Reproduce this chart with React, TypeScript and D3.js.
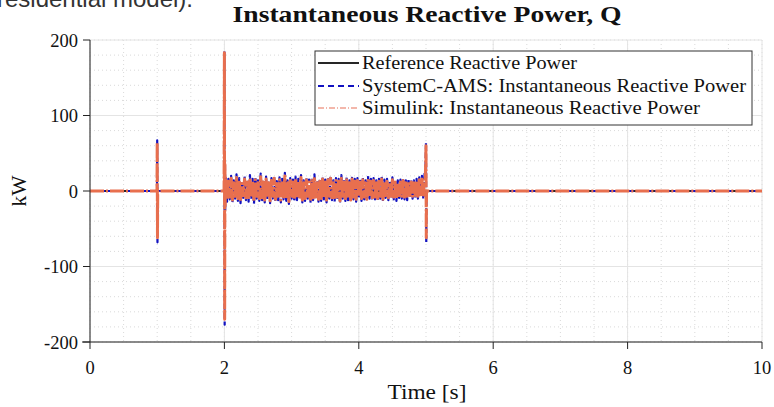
import React from "react";
import * as d3 from "d3";

const W = 774, H = 407;
const M = { left: 90, right: 762, top: 40, bottom: 342 };

const xTicks = [0, 2, 4, 6, 8, 10];
const yTicks = [-200, -100, 0, 100, 200];

// Reference reactive power (flat zero)
const refT = [0, 10];
const refQ = [0, 0];

// SystemC-AMS: transients (time, value)
const sysEventsBefore: [number, number][] = [
  [0, 0], [0.997, 0], [1.0, 67], [1.004, -68], [1.008, 0],
  [1.995, 0], [2.0, 185], [2.004, -177], [2.008, 40], [2.012, -25], [2.016, 20],
];
const sysEventsAfter: [number, number][] = [
  [4.99, 20], [5.0, 64], [5.004, -69], [5.008, -4], [5.012, 0], [10, 0],
];
// Simulink transients
const simEventsBefore: [number, number][] = [
  [0, 0], [0.997, 0], [1.0, 64], [1.004, -62], [1.008, 0],
  [1.995, 0], [2.0, 183], [2.004, -170], [2.008, 35], [2.012, -20], [2.016, 18],
];
const simEventsAfter: [number, number][] = [
  [4.99, 18], [5.0, 60], [5.004, -62], [5.008, -3], [5.012, 0], [10, 0],
];

// Noisy segment sampled from t = 2.02 to 4.98, step 0.02
const noiseStart = 2.02;
const noiseStep = 0.02;
const sysNoise = [
  18, -14, 16, -11, 20, -15, 14, -10, 22, -13,
  17, -16, 13, -9, 19, -12, 15, -14, 21, -11,
  16, -17, 18, -10, 14, -13, 23, -12, 15, -15,
  19, -11, 14, -16, 17, -10, 20, -14, 13, -12,
  18, -15, 16, -11, 24, -13, 14, -17, 17, -10,
  15, -14, 19, -12, 16, -11, 21, -15, 14, -13,
  18, -10, 15, -16, 17, -12, 22, -11, 14, -14,
  16, -13, 19, -11, 15, -15, 18, -10, 20, -12,
  14, -14, 17, -11, 16, -16, 21, -10, 15, -13,
  18, -12, 14, -15, 19, -11, 16, -14, 17, -10,
  15, -13, 18, -11, 14, -14, 20, -10, 16, -12,
  17, -11, 14, -13, 16, -10, 19, -14, 15, -9,
  16, -12, 14, -10, 18, -11, 15, -13, 14, -9,
  15, -10, 17, -11, 14, -12, 16, -9, 15, -10,
  14, -9, 16, -10, 18, -8, 20, -11, 24,
];
const simNoise = [
  15, -11, 13, -8, 17, -12, 11, -7, 18, -10,
  14, -13, 10, -6, 16, -9, 12, -11, 17, -8,
  13, -14, 15, -7, 11, -10, 19, -9, 12, -12,
  16, -8, 11, -13, 14, -7, 17, -11, 10, -9,
  15, -12, 13, -8, 20, -10, 11, -14, 14, -7,
  12, -11, 16, -9, 13, -8, 18, -12, 11, -10,
  15, -7, 12, -13, 14, -9, 18, -8, 11, -11,
  13, -10, 16, -8, 12, -12, 15, -7, 17, -9,
  11, -11, 14, -8, 13, -13, 17, -7, 12, -10,
  15, -9, 11, -12, 16, -8, 13, -11, 14, -7,
  12, -10, 15, -8, 11, -11, 16, -7, 13, -9,
  14, -8, 11, -10, 13, -7, 16, -11, 12, -6,
  13, -9, 11, -7, 15, -8, 12, -10, 11, -6,
  12, -7, 14, -8, 11, -9, 13, -6, 12, -7,
  11, -6, 13, -7, 15, -5, 16, -8, 19,
];

const FONT = "'Liberation Serif', 'DejaVu Serif', serif";

export default function App() {
  const x = d3.scaleLinear().domain([0, 10]).range([M.left, M.right]);
  const y = d3.scaleLinear().domain([-200, 200]).range([M.bottom, M.top]);
  const line = d3.line<[number, number]>().x((d) => x(d[0])).y((d) => y(d[1]));

  const build = (before: [number, number][], noise: number[], after: [number, number][]) => [
    ...before,
    ...noise.map((v, i) => [noiseStart + i * noiseStep, v] as [number, number]),
    ...after,
  ];
  const sysData = build(sysEventsBefore, sysNoise, sysEventsAfter);
  const simData = build(simEventsBefore, simNoise, simEventsAfter);
  const refData = refT.map((t, i) => [t, refQ[i]] as [number, number]);

  const xMinor = d3.range(0, 10.001, 0.5);
  const yMinor = d3.range(-200, 200.001, 20);

  const blue = "#1212c0";
  const orange = "#e86f4e";

  return (
    <svg width={W} height={H} style={{ position: "absolute", left: 0, top: 0, background: "#fff" }}>
      <text x={-3} y={7} fontFamily="'Liberation Sans', Arial, sans-serif" fontSize={24} fill="#333" textLength={196} lengthAdjust="spacingAndGlyphs">
        residential model).
      </text>
      <text x={427} y={22} textAnchor="middle" fontFamily={FONT} fontSize={22.5} fontWeight="bold" fill="#111" textLength={389} lengthAdjust="spacingAndGlyphs">
        Instantaneous Reactive Power, Q
      </text>
      {/* minor grid */}
      {xMinor.map((v) => (
        <line key={"xm" + v} x1={x(v)} x2={x(v)} y1={M.top} y2={M.bottom} stroke="#cfcfcf" strokeWidth={0.8} strokeDasharray="1,3" />
      ))}
      {yMinor.map((v) => (
        <line key={"ym" + v} x1={M.left} x2={M.right} y1={y(v)} y2={y(v)} stroke="#cfcfcf" strokeWidth={0.8} strokeDasharray="1,3" />
      ))}
      {/* major grid */}
      {xTicks.map((v) => (
        <line key={"xg" + v} x1={x(v)} x2={x(v)} y1={M.top} y2={M.bottom} stroke="#e4e4e4" strokeWidth={1} />
      ))}
      {yTicks.map((v) => (
        <line key={"yg" + v} x1={M.left} x2={M.right} y1={y(v)} y2={y(v)} stroke="#e4e4e4" strokeWidth={1} />
      ))}
      {/* data */}
      <path d={line(refData) || ""} fill="none" stroke="#262626" strokeWidth={2} />
      <path d={line(sysData) || ""} fill="none" stroke={blue} strokeWidth={2.2} strokeDasharray="6,3" strokeLinejoin="round" />
      <path d={line(simData) || ""} fill="none" stroke={orange} strokeWidth={3} strokeDasharray="14,2,2,2" strokeLinejoin="round" />
      {/* axes */}
      <line x1={M.left} x2={M.left} y1={M.top} y2={M.bottom} stroke="#222" strokeWidth={1} />
      <line x1={M.left - 8} x2={M.right} y1={M.bottom} y2={M.bottom} stroke="#222" strokeWidth={1} />
      {yTicks.map((v) => (
        <g key={"yt" + v}>
          <line x1={M.left - 7} x2={M.left} y1={y(v)} y2={y(v)} stroke="#222" />
          <text x={M.left - 12} y={y(v) + 6.5} textAnchor="end" fontFamily={FONT} fontSize={18.5} fill="#111">
            {v}
          </text>
        </g>
      ))}
      {xTicks.map((v) => (
        <g key={"xt" + v}>
          <line x1={x(v)} x2={x(v)} y1={M.bottom} y2={M.bottom + 7} stroke="#222" />
          <text x={x(v)} y={M.bottom + 32} textAnchor="middle" fontFamily={FONT} fontSize={18.5} fill="#111">
            {v}
          </text>
        </g>
      ))}
      <text x={427} y={399} textAnchor="middle" fontFamily={FONT} fontSize={20} fill="#111" textLength={79} lengthAdjust="spacingAndGlyphs">
        Time [s]
      </text>
      <text transform={`translate(26,${y(0)}) rotate(-90)`} textAnchor="middle" fontFamily={FONT} fontSize={20} fill="#111" textLength={31} lengthAdjust="spacingAndGlyphs">
        kW
      </text>
      {/* legend */}
      <g>
        <rect x={315} y={51} width={437} height={74} fill="#fff" stroke="#333" strokeWidth={1} />
        <line x1={318} x2={359} y1={63} y2={63} stroke="#262626" strokeWidth={2} />
        <line x1={318} x2={359} y1={86} y2={86} stroke={blue} strokeWidth={2} strokeDasharray="6,4" />
        <line x1={318} x2={359} y1={108} y2={108} stroke="#f0a090" strokeWidth={1.3} strokeDasharray="6,2,1,2" />
        <text x={362} y={68.5} fontFamily={FONT} fontSize={18.5} fill="#111" textLength={215} lengthAdjust="spacingAndGlyphs">Reference Reactive Power</text>
        <text x={362} y={91.5} fontFamily={FONT} fontSize={18.5} fill="#111" textLength={384} lengthAdjust="spacingAndGlyphs">SystemC-AMS: Instantaneous Reactive Power</text>
        <text x={362} y={113.5} fontFamily={FONT} fontSize={18.5} fill="#111" textLength={338} lengthAdjust="spacingAndGlyphs">Simulink: Instantaneous Reactive Power</text>
      </g>
    </svg>
  );
}
